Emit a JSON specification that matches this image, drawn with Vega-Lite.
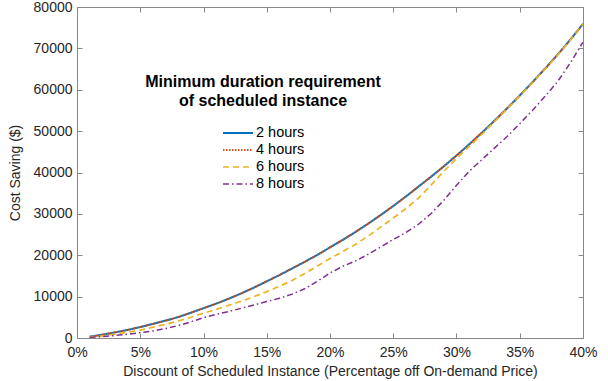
{
  "$schema": "https://vega.github.io/schema/vega-lite/v6.json",
  "width": 506,
  "height": 331,
  "autosize": {"type": "none"},
  "padding": {"left": 77, "top": 7, "right": 25, "bottom": 43},
  "background": "white",
  "config": {
    "view": {"stroke": "#888888", "strokeWidth": 1},
    "font": "Liberation Sans",
    "axis": {
      "grid": false,
      "domainColor": "#888888",
      "tickColor": "#888888",
      "labelColor": "#262626",
      "titleColor": "#262626",
      "labelFontSize": 14,
      "titleFontSize": 14,
      "titleFontWeight": "normal",
      "labelFont": "Liberation Sans",
      "titleFont": "Liberation Sans"
    }
  },
  "data": {
    "values": [
      {"d": 0.01, "s": 300, "g": "2 hours"},
      {"d": 0.02, "s": 800, "g": "2 hours"},
      {"d": 0.03, "s": 1350, "g": "2 hours"},
      {"d": 0.04, "s": 1950, "g": "2 hours"},
      {"d": 0.05, "s": 2650, "g": "2 hours"},
      {"d": 0.06, "s": 3400, "g": "2 hours"},
      {"d": 0.07, "s": 4200, "g": "2 hours"},
      {"d": 0.08, "s": 5050, "g": "2 hours"},
      {"d": 0.09, "s": 6100, "g": "2 hours"},
      {"d": 0.10, "s": 7200, "g": "2 hours"},
      {"d": 0.11, "s": 8300, "g": "2 hours"},
      {"d": 0.12, "s": 9500, "g": "2 hours"},
      {"d": 0.13, "s": 10800, "g": "2 hours"},
      {"d": 0.14, "s": 12200, "g": "2 hours"},
      {"d": 0.15, "s": 13700, "g": "2 hours"},
      {"d": 0.16, "s": 15200, "g": "2 hours"},
      {"d": 0.17, "s": 16800, "g": "2 hours"},
      {"d": 0.18, "s": 18400, "g": "2 hours"},
      {"d": 0.19, "s": 20100, "g": "2 hours"},
      {"d": 0.20, "s": 21900, "g": "2 hours"},
      {"d": 0.21, "s": 23700, "g": "2 hours"},
      {"d": 0.22, "s": 25600, "g": "2 hours"},
      {"d": 0.23, "s": 27600, "g": "2 hours"},
      {"d": 0.24, "s": 29700, "g": "2 hours"},
      {"d": 0.25, "s": 31900, "g": "2 hours"},
      {"d": 0.26, "s": 34200, "g": "2 hours"},
      {"d": 0.27, "s": 36600, "g": "2 hours"},
      {"d": 0.28, "s": 39000, "g": "2 hours"},
      {"d": 0.29, "s": 41500, "g": "2 hours"},
      {"d": 0.30, "s": 44100, "g": "2 hours"},
      {"d": 0.31, "s": 46800, "g": "2 hours"},
      {"d": 0.32, "s": 49600, "g": "2 hours"},
      {"d": 0.33, "s": 52500, "g": "2 hours"},
      {"d": 0.34, "s": 55500, "g": "2 hours"},
      {"d": 0.35, "s": 58600, "g": "2 hours"},
      {"d": 0.36, "s": 61800, "g": "2 hours"},
      {"d": 0.37, "s": 65100, "g": "2 hours"},
      {"d": 0.38, "s": 68500, "g": "2 hours"},
      {"d": 0.39, "s": 72100, "g": "2 hours"},
      {"d": 0.40, "s": 75900, "g": "2 hours"},
      {"d": 0.01, "s": 300, "g": "4 hours"},
      {"d": 0.02, "s": 800, "g": "4 hours"},
      {"d": 0.03, "s": 1350, "g": "4 hours"},
      {"d": 0.04, "s": 1950, "g": "4 hours"},
      {"d": 0.05, "s": 2650, "g": "4 hours"},
      {"d": 0.06, "s": 3400, "g": "4 hours"},
      {"d": 0.07, "s": 4200, "g": "4 hours"},
      {"d": 0.08, "s": 5050, "g": "4 hours"},
      {"d": 0.09, "s": 6100, "g": "4 hours"},
      {"d": 0.10, "s": 7200, "g": "4 hours"},
      {"d": 0.11, "s": 8300, "g": "4 hours"},
      {"d": 0.12, "s": 9500, "g": "4 hours"},
      {"d": 0.13, "s": 10800, "g": "4 hours"},
      {"d": 0.14, "s": 12200, "g": "4 hours"},
      {"d": 0.15, "s": 13700, "g": "4 hours"},
      {"d": 0.16, "s": 15200, "g": "4 hours"},
      {"d": 0.17, "s": 16800, "g": "4 hours"},
      {"d": 0.18, "s": 18400, "g": "4 hours"},
      {"d": 0.19, "s": 20100, "g": "4 hours"},
      {"d": 0.20, "s": 21900, "g": "4 hours"},
      {"d": 0.21, "s": 23700, "g": "4 hours"},
      {"d": 0.22, "s": 25600, "g": "4 hours"},
      {"d": 0.23, "s": 27600, "g": "4 hours"},
      {"d": 0.24, "s": 29700, "g": "4 hours"},
      {"d": 0.25, "s": 31900, "g": "4 hours"},
      {"d": 0.26, "s": 34200, "g": "4 hours"},
      {"d": 0.27, "s": 36600, "g": "4 hours"},
      {"d": 0.28, "s": 39000, "g": "4 hours"},
      {"d": 0.29, "s": 41500, "g": "4 hours"},
      {"d": 0.30, "s": 44100, "g": "4 hours"},
      {"d": 0.31, "s": 46800, "g": "4 hours"},
      {"d": 0.32, "s": 49600, "g": "4 hours"},
      {"d": 0.33, "s": 52500, "g": "4 hours"},
      {"d": 0.34, "s": 55500, "g": "4 hours"},
      {"d": 0.35, "s": 58600, "g": "4 hours"},
      {"d": 0.36, "s": 61800, "g": "4 hours"},
      {"d": 0.37, "s": 65100, "g": "4 hours"},
      {"d": 0.38, "s": 68500, "g": "4 hours"},
      {"d": 0.39, "s": 72100, "g": "4 hours"},
      {"d": 0.40, "s": 75900, "g": "4 hours"},
      {"d": 0.01, "s": 200, "g": "6 hours"},
      {"d": 0.02, "s": 500, "g": "6 hours"},
      {"d": 0.03, "s": 900, "g": "6 hours"},
      {"d": 0.04, "s": 1400, "g": "6 hours"},
      {"d": 0.05, "s": 1900, "g": "6 hours"},
      {"d": 0.06, "s": 2600, "g": "6 hours"},
      {"d": 0.07, "s": 3300, "g": "6 hours"},
      {"d": 0.08, "s": 4100, "g": "6 hours"},
      {"d": 0.09, "s": 5000, "g": "6 hours"},
      {"d": 0.10, "s": 6000, "g": "6 hours"},
      {"d": 0.11, "s": 6900, "g": "6 hours"},
      {"d": 0.12, "s": 7900, "g": "6 hours"},
      {"d": 0.13, "s": 8900, "g": "6 hours"},
      {"d": 0.14, "s": 10000, "g": "6 hours"},
      {"d": 0.15, "s": 11200, "g": "6 hours"},
      {"d": 0.16, "s": 12500, "g": "6 hours"},
      {"d": 0.17, "s": 13900, "g": "6 hours"},
      {"d": 0.18, "s": 15600, "g": "6 hours"},
      {"d": 0.19, "s": 17400, "g": "6 hours"},
      {"d": 0.20, "s": 19200, "g": "6 hours"},
      {"d": 0.21, "s": 20900, "g": "6 hours"},
      {"d": 0.22, "s": 22600, "g": "6 hours"},
      {"d": 0.23, "s": 24600, "g": "6 hours"},
      {"d": 0.24, "s": 26800, "g": "6 hours"},
      {"d": 0.25, "s": 29000, "g": "6 hours"},
      {"d": 0.26, "s": 31300, "g": "6 hours"},
      {"d": 0.27, "s": 33800, "g": "6 hours"},
      {"d": 0.28, "s": 37000, "g": "6 hours"},
      {"d": 0.29, "s": 40300, "g": "6 hours"},
      {"d": 0.30, "s": 43400, "g": "6 hours"},
      {"d": 0.31, "s": 46300, "g": "6 hours"},
      {"d": 0.32, "s": 49200, "g": "6 hours"},
      {"d": 0.33, "s": 52300, "g": "6 hours"},
      {"d": 0.34, "s": 55400, "g": "6 hours"},
      {"d": 0.35, "s": 58500, "g": "6 hours"},
      {"d": 0.36, "s": 61700, "g": "6 hours"},
      {"d": 0.37, "s": 65000, "g": "6 hours"},
      {"d": 0.38, "s": 68400, "g": "6 hours"},
      {"d": 0.39, "s": 72000, "g": "6 hours"},
      {"d": 0.40, "s": 75900, "g": "6 hours"},
      {"d": 0.01, "s": 150, "g": "8 hours"},
      {"d": 0.02, "s": 350, "g": "8 hours"},
      {"d": 0.03, "s": 600, "g": "8 hours"},
      {"d": 0.04, "s": 900, "g": "8 hours"},
      {"d": 0.05, "s": 1300, "g": "8 hours"},
      {"d": 0.06, "s": 1700, "g": "8 hours"},
      {"d": 0.07, "s": 2300, "g": "8 hours"},
      {"d": 0.08, "s": 3000, "g": "8 hours"},
      {"d": 0.09, "s": 3900, "g": "8 hours"},
      {"d": 0.10, "s": 4900, "g": "8 hours"},
      {"d": 0.11, "s": 5700, "g": "8 hours"},
      {"d": 0.12, "s": 6400, "g": "8 hours"},
      {"d": 0.13, "s": 7200, "g": "8 hours"},
      {"d": 0.14, "s": 8000, "g": "8 hours"},
      {"d": 0.15, "s": 8800, "g": "8 hours"},
      {"d": 0.16, "s": 9600, "g": "8 hours"},
      {"d": 0.17, "s": 10600, "g": "8 hours"},
      {"d": 0.18, "s": 11900, "g": "8 hours"},
      {"d": 0.19, "s": 13700, "g": "8 hours"},
      {"d": 0.20, "s": 15700, "g": "8 hours"},
      {"d": 0.21, "s": 17300, "g": "8 hours"},
      {"d": 0.22, "s": 18600, "g": "8 hours"},
      {"d": 0.23, "s": 20200, "g": "8 hours"},
      {"d": 0.24, "s": 22000, "g": "8 hours"},
      {"d": 0.25, "s": 23800, "g": "8 hours"},
      {"d": 0.26, "s": 25500, "g": "8 hours"},
      {"d": 0.27, "s": 27500, "g": "8 hours"},
      {"d": 0.28, "s": 30100, "g": "8 hours"},
      {"d": 0.29, "s": 33300, "g": "8 hours"},
      {"d": 0.30, "s": 36900, "g": "8 hours"},
      {"d": 0.31, "s": 40300, "g": "8 hours"},
      {"d": 0.32, "s": 43100, "g": "8 hours"},
      {"d": 0.33, "s": 45900, "g": "8 hours"},
      {"d": 0.34, "s": 48700, "g": "8 hours"},
      {"d": 0.35, "s": 51800, "g": "8 hours"},
      {"d": 0.36, "s": 55000, "g": "8 hours"},
      {"d": 0.37, "s": 58400, "g": "8 hours"},
      {"d": 0.38, "s": 62000, "g": "8 hours"},
      {"d": 0.39, "s": 66500, "g": "8 hours"},
      {"d": 0.40, "s": 71500, "g": "8 hours"}
    ]
  },
  "layer": [
    {
      "mark": {"type": "line", "clip": true},
      "encoding": {
        "x": {
          "field": "d", "type": "quantitative",
          "scale": {"domain": [0, 0.4], "nice": false, "zero": false},
          "axis": {
            "orient": "bottom",
            "values": [0, 0.05, 0.1, 0.15, 0.2, 0.25, 0.3, 0.35, 0.4],
            "format": ".0%",
            "tickSize": -5,
            "labelPadding": 12,
            "labelFlush": false,
            "title": "Discount of Scheduled Instance (Percentage off On-demand Price)",
            "titlePadding": 5
          }
        },
        "y": {
          "field": "s", "type": "quantitative",
          "scale": {"domain": [0, 80000], "nice": false},
          "axis": {
            "orient": "left",
            "values": [0, 10000, 20000, 30000, 40000, 50000, 60000, 70000, 80000],
            "format": "d",
            "tickSize": -5,
            "labelPadding": 10,
            "labelFlush": false,
            "title": "Cost Saving ($)",
            "titlePadding": 11
          }
        },
        "color": {
          "field": "g", "type": "nominal",
          "scale": {
            "domain": ["2 hours", "4 hours", "6 hours", "8 hours"],
            "range": ["#0072BD", "#D95319", "#EDB120", "#7E2F8E"]
          },
          "legend": {
            "orient": "none",
            "legendX": 68,
            "legendY": 67,
            "title": ["Minimum duration requirement", "of scheduled instance"],
            "titleFontSize": 16,
            "titleFontWeight": "bold",
            "titleColor": "#000000",
            "titleAlign": "center",
            "titleAnchor": "middle",
            "titleLimit": 500,
            "titleLineHeight": 19,
            "titlePadding": 16,
            "labelFontSize": 14.5,
            "labelColor": "#000000",
            "labelOffset": 2,
            "symbolType": "stroke",
            "symbolSize": 900,
            "symbolStrokeWidth": 2,
            "clipHeight": 16,
            "rowPadding": 1,
            "padding": 0
          }
        },
        "strokeDash": {
          "field": "g", "type": "nominal",
          "scale": {
            "domain": ["2 hours", "4 hours", "6 hours", "8 hours"],
            "range": [[1, 0], [1.5, 1.5], [6, 4], [6, 3, 1.5, 3]]
          },
          "legend": null
        },
        "strokeWidth": {
          "field": "g", "type": "nominal",
          "scale": {
            "domain": ["2 hours", "4 hours", "6 hours", "8 hours"],
            "range": [2, 1.5, 2, 2]
          },
          "legend": null
        },
        "order": {"field": "d", "type": "quantitative"}
      }
    },
    {
      "mark": {"type": "rule", "opacity": 0},
      "encoding": {
        "x": {
          "datum": 0, "type": "quantitative",
          "axis": {
            "orient": "top",
            "values": [0, 0.05, 0.1, 0.15, 0.2, 0.25, 0.3, 0.35, 0.4],
            "labels": false,
            "domain": false,
            "tickSize": -5,
            "title": null
          }
        },
        "y": {
          "datum": 0, "type": "quantitative",
          "axis": {
            "orient": "right",
            "values": [0, 10000, 20000, 30000, 40000, 50000, 60000, 70000, 80000],
            "labels": false,
            "domain": false,
            "tickSize": -5,
            "title": null
          }
        }
      }
    }
  ],
  "resolve": {"axis": {"x": "independent", "y": "independent"}}
}
